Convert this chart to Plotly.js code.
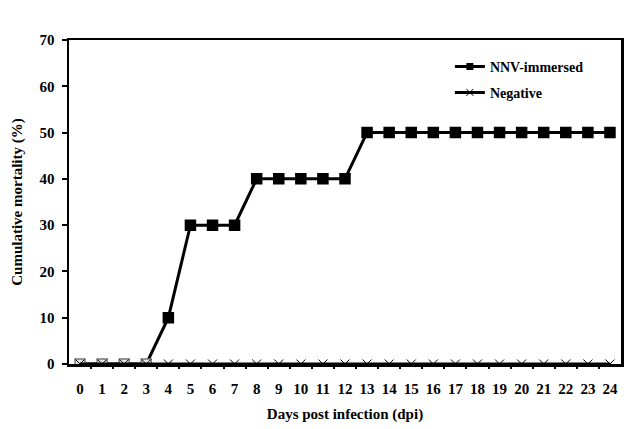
<!DOCTYPE html>
<html><head><meta charset="utf-8">
<script src="https://cdn.plot.ly/plotly-3.0.1.min.js"></script>
<style>body{margin:0;background:#fff}#c{width:633px;height:429px}</style>
</head><body><div id="c"></div>
<script>
const days = [0,1,2,3,4,5,6,7,8,9,10,11,12,13,14,15,16,17,18,19,20,21,22,23,24];
const nnvImmersed = [0,0,0,0,10,30,30,30,40,40,40,40,40,50,50,50,50,50,50,50,50,50,50,50,50];
const negative = [0,0,0,0,0,0,0,0,0,0,0,0,0,0,0,0,0,0,0,0,0,0,0,0,0];
const yTicks = [0,10,20,30,40,50,60,70];
const seriesNames = ['NNV-immersed', 'Negative'];

const font = {family: '"Liberation Serif", "Times New Roman", serif', color: '#000'};
const f = (size) => Object.assign({size: size, weight: 'bold'}, font);
const traces = [
  {x: days, y: nnvImmersed, name: seriesNames[0], mode: 'lines+markers', type: 'scatter', showlegend: false,
   line: {color: '#000', width: 3},
   marker: {symbol: 'square', size: 10,
     color: nnvImmersed.map(v => v === 0 ? '#e4e4e4' : '#000'),
     line: {color: nnvImmersed.map(v => v === 0 ? '#777' : '#000'), width: 1.5}}},
  {x: days, y: negative, name: seriesNames[1], mode: 'lines+markers', type: 'scatter', showlegend: false,
   line: {color: '#000', width: 3},
   marker: {symbol: 'x-thin-open', size: 9, color: '#000', line: {color: '#000', width: 1}}},
  {x: [null], y: [null], name: seriesNames[0], mode: 'lines+markers', legend: 'legend',
   line: {color: '#000', width: 3}, marker: {symbol: 'square', size: 7, color: '#000'}},
  {x: [null], y: [null], name: seriesNames[1], mode: 'lines+markers', legend: 'legend2',
   line: {color: '#000', width: 3}, marker: {symbol: 'x-thin-open', size: 7, color: '#000', line: {color: '#000', width: 1}}},
  {x: [0], y: [0], xaxis: 'x2', mode: 'markers', marker: {opacity: 0}, showlegend: false, hoverinfo: 'skip'}
];
const legendBase = {xanchor: 'left', yanchor: 'middle', bgcolor: 'rgba(0,0,0,0)', font: f(14), itemwidth: 30};
const layout = {
  width: 633, height: 429,
  margin: {l: 69, r: 12, t: 40, b: 65},
  paper_bgcolor: '#fff', plot_bgcolor: '#fff',
  showlegend: true,
  legend: Object.assign({x: 0.69, y: 0.917}, legendBase),
  legend2: Object.assign({x: 0.69, y: 0.837}, legendBase),
  xaxis: {
    range: [-0.5, 24.5], tickmode: 'array', tickvals: days, ticktext: days.map(String),
    showgrid: false, zeroline: false, showline: true, linecolor: '#000', linewidth: 2.5,
    mirror: true, ticks: '', ticklabelstandoff: 9, tickfont: f(15),
    title: {text: 'Days post infection (dpi)', font: f(15), standoff: 13}
  },
  xaxis2: {overlaying: 'x', range: [-0.5, 24.5], tickmode: 'array',
    tickvals: days.slice(0, -1).map(d => d + 0.5), showticklabels: false, ticks: 'outside',
    ticklen: 4, tickwidth: 2, tickcolor: '#000', showgrid: false, zeroline: false, showline: false},
  yaxis: {
    range: [0, 70], tickmode: 'array', tickvals: yTicks, ticktext: yTicks.map(String),
    showgrid: false, zeroline: false, showline: true, linecolor: '#000', linewidth: 2.5,
    mirror: true, ticks: 'outside', ticklen: 5, tickwidth: 2, tickcolor: '#000',
    ticklabelstandoff: 4, tickfont: f(15),
    title: {text: 'Cumulative mortality (%)', font: f(15), standoff: 14}
  }
};
Plotly.newPlot('c', traces, layout, {displayModeBar: false, staticPlot: true});
</script></body></html>
